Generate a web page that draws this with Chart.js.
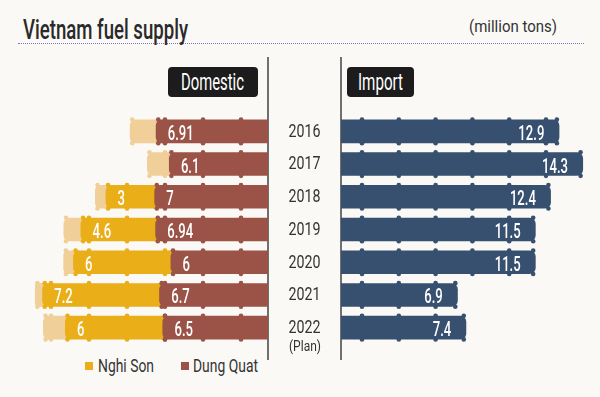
<!DOCTYPE html>
<html>
<head>
<meta charset="utf-8">
<script src="https://cdn.jsdelivr.net/npm/chart.js@4/dist/chart.umd.min.js"></script>
<style>
  html, body { margin: 0; padding: 0; background: #faf9f5; }
  #wrap { position: relative; width: 600px; height: 397px; overflow: hidden; background: #faf9f5;
          font-family: 'Roboto', sans-serif; color: #333; }
  .txt { position: absolute; white-space: nowrap; line-height: 1; transform-origin: 0 0; }
  .box { position: absolute; background: #1c1c1c; border-radius: 4px; }
  .vline { position: absolute; width: 2px; background: #707070; }
  .sq { position: absolute; width: 8px; height: 8px; }
  canvas { position: absolute; }
  #rule { position: absolute; left: 18px; top: 43px; width: 566px; height: 0; border-top: 1px dotted #7b74c4; }
</style>
</head>
<body>
<div id="wrap">
  <div id="rule"></div>
  <div class="box" style="left:168px;top:67px;width:90px;height:30px"></div>
  <div class="box" style="left:347px;top:67px;width:67px;height:30px"></div>
  <div class="vline" style="left:267px;top:57px;height:303px"></div>
  <div class="vline" style="left:340px;top:57px;height:303px"></div>
  <div class="sq" style="left:85px;top:362px;background:#e9ae18"></div>
  <div class="sq" style="left:181px;top:362px;background:#9b5348"></div>
  <canvas id="left" width="268" height="229" style="left:0;top:115px"></canvas>
  <canvas id="right" width="332" height="229" style="left:268px;top:115px"></canvas>
</div>
<script>
// ---- data (million tons) ----
const years    = ['2016', '2017', '2018', '2019', '2020', '2021', '2022'];
const dungQuat = [6.91, 6.1, 7, 6.94, 6, 6.7, 6.5];
const nghiSon  = [null, null, 3, 4.6, 6, 7.2, 6];
const pipeEnd  = [1.6, 1.35, 0.65, 1.05, 0.6, 0.45, 1.35];   // light pipe opening drawn past the domestic bars
const imports  = [12.9, 14.3, 12.4, 11.5, 11.5, 6.9, 7.4];
const seriesNames = ['Nghi Son', 'Dung Quat'];

const FONT = "Roboto, 'Liberation Sans', sans-serif";
const C = { dung: '#9b5348', nghi: '#e9ae18', cap: '#f1cf98', imp: '#37506f' };

// ---- HTML text helper (condensed look via horizontal scaling) ----
const wrap = document.getElementById('wrap');
function txt(s, o) {
  const d = document.createElement('div');
  d.className = 'txt';
  d.textContent = s;
  d.style.fontSize = o.size + 'px';
  d.style.color = o.color || '#333';
  if (o.weight) d.style.fontWeight = o.weight;
  wrap.appendChild(d);
  const w = d.getBoundingClientRect().width;
  const sx = o.width ? o.width / w : 1;
  const left = o.cx !== undefined ? o.cx - (w * sx) / 2 : o.left;
  d.style.left = left + 'px';
  d.style.top = (o.baseline - 0.842 * o.size) + 'px';
  d.style.transform = 'scaleX(' + sx + ')';
  return d;
}
txt('Vietnam fuel supply', { left: 23, baseline: 40, size: 28, width: 165, color: '#2a2a2a', weight: 500 });
txt('(million tons)', { left: 469, baseline: 32, size: 17, width: 88 });
txt('Domestic', { cx: 212, baseline: 90, size: 23, width: 63, color: '#ffffff' });
txt('Import', { cx: 380.5, baseline: 90, size: 23, width: 45, color: '#ffffff' });
txt(seriesNames[0], { left: 98, baseline: 372, size: 18, width: 56 });
txt(seriesNames[1], { left: 193, baseline: 372, size: 18, width: 65 });
txt('(Plan)', { cx: 304.5, baseline: 351, size: 14, width: 32 });

// ---- pipe decoration: underlap + flanges ----
const pipePlugin = {
  id: 'pipe',
  beforeDatasetsDraw(chart, args, opts) {
    if (!opts.underlap) return;
    const ctx = chart.ctx;
    chart.data.datasets.forEach((ds, di) => {
      if (di === 0) return;
      chart.getDatasetMeta(di).data.forEach((el, i) => {
        if (!ds.data[i]) return;
        const p = el.getProps(['x', 'base', 'y', 'height'], true);
        ctx.fillStyle = ds.backgroundColor;
        ctx.fillRect(p.base - 1, p.y - p.height / 2, 8, p.height);
      });
    });
  },
  afterDatasetsDraw(chart, args, opts) {
    const ctx = chart.ctx, area = chart.chartArea;
    chart.data.labels.forEach((lab, i) => {
      const segs = [];
      chart.data.datasets.forEach((ds, di) => {
        if (!ds.data[i]) return;
        const p = chart.getDatasetMeta(di).data[i].getProps(['x', 'base', 'y', 'height'], true);
        segs.push({ lo: Math.min(p.x, p.base), hi: Math.max(p.x, p.base), outer: p.x, y: p.y, h: p.height, color: ds.backgroundColor });
      });
      if (!segs.length) return;
      const y = segs[0].y, h = segs[0].h;
      const lo = Math.min(...segs.map(s => s.lo)), hi = Math.max(...segs.map(s => s.hi));
      const pts = [];
      if (opts.side === 'left') {
        for (let px = area.right - opts.first; px > lo + 7; px -= opts.step) pts.push([px, null]);
        segs.forEach(s => pts.push([s.outer + 2.5, s.color]));
      } else {
        for (let px = area.left + opts.first; px < hi - 7; px += opts.step) pts.push([px, null]);
        segs.forEach(s => pts.push([s.outer - 2.5, s.color]));
      }
      pts.forEach(([px, col]) => {
        if (!col) { const s = segs.find(s => px >= s.lo && px <= s.hi); if (!s) return; col = s.color; }
        ctx.fillStyle = col;
        [y - h / 2, y + h / 2].forEach(yy => { ctx.beginPath(); ctx.arc(px, yy, 2.3, 0, Math.PI * 2); ctx.fill(); });
      });
    });
  }
};

// ---- value labels inside bars ----
const labelPlugin = {
  id: 'vals',
  afterDatasetsDraw(chart, args, opts) {
    const ctx = chart.ctx;
    ctx.save();
    ctx.font = '500 ' + opts.size + 'px ' + FONT;
    const sx = opts.refWidth / ctx.measureText('12.9').width;
    ctx.fillStyle = '#ffffff';
    ctx.textBaseline = 'alphabetic';
    opts.datasets.forEach(di => {
      const ds = chart.data.datasets[di];
      chart.getDatasetMeta(di).data.forEach((el, i) => {
        const v = ds.data[i];
        if (v == null) return;
        const p = el.getProps(['x', 'y'], true);
        const by = p.y + 1 + opts.size * 0.711 / 2;
        ctx.save();
        if (opts.side === 'left') { ctx.translate(p.x + opts.inset, by); ctx.textAlign = 'left'; }
        else { ctx.translate(p.x - opts.inset, by); ctx.textAlign = 'right'; }
        ctx.scale(sx, 1);
        ctx.fillText(String(v), 0, 0);
        ctx.restore();
      });
    });
    ctx.restore();
  }
};

// ---- category (year) labels between the two halves, placed with the y scale ----
const yearPlugin = {
  id: 'years',
  afterDraw(chart, args, opts) {
    const ctx = chart.ctx, yScale = chart.scales.y;
    ctx.save();
    ctx.font = opts.size + 'px ' + FONT;
    const sx = opts.refWidth / ctx.measureText('2016').width;
    ctx.fillStyle = '#333';
    ctx.textAlign = 'center';
    ctx.textBaseline = 'alphabetic';
    chart.data.labels.forEach((lab, i) => {
      const yc = yScale.getPixelForValue(i) - 1;
      ctx.save();
      ctx.translate(chart.chartArea.left - opts.offset, yc + opts.size * 0.711 / 2);
      ctx.scale(sx, 1);
      ctx.fillText(lab, 0, 0);
      ctx.restore();
    });
    ctx.restore();
  }
};

const radius = { topLeft: 6, topRight: 6, bottomLeft: 6, bottomRight: 6 };
const common = { responsive: false, animation: false, indexAxis: 'y', events: [] };

new Chart(document.getElementById('left'), {
  type: 'bar',
  data: {
    labels: years,
    datasets: [
      { label: 'Dung Quat', data: dungQuat, backgroundColor: C.dung },
      { label: 'Nghi Son', data: nghiSon, backgroundColor: C.nghi },
      { label: 'pipe end', data: pipeEnd, backgroundColor: C.cap },
    ].map(d => Object.assign(d, { barPercentage: 0.72, categoryPercentage: 1, borderRadius: radius, borderSkipped: 'start' }))
  },
  options: Object.assign({}, common, {
    layout: { padding: 0, autoPadding: false },
    scales: {
      x: { display: false, stacked: true, reverse: true, min: 0, max: 16.5 },
      y: { display: false, stacked: true }
    },
    plugins: {
      legend: { display: false }, tooltip: { enabled: false },
      pipe: { side: 'left', first: 27, step: 38, underlap: true },
      vals: { side: 'left', datasets: [0, 1], size: 21, refWidth: 26, inset: 12 }
    }
  }),
  plugins: [pipePlugin, labelPlugin]
});

new Chart(document.getElementById('right'), {
  type: 'bar',
  data: {
    labels: years,
    datasets: [
      { label: 'Import', data: imports, backgroundColor: C.imp, barPercentage: 0.72, categoryPercentage: 1, borderRadius: radius, borderSkipped: 'start' }
    ]
  },
  options: Object.assign({}, common, {
    layout: { padding: { left: 73, right: 0, top: 0, bottom: 0 }, autoPadding: false },
    scales: {
      x: { display: false, min: 0, max: 15.3 },
      y: { display: false }
    },
    plugins: {
      legend: { display: false }, tooltip: { enabled: false },
      pipe: { side: 'right', first: 21, step: 36.8 },
      vals: { side: 'right', datasets: [0], size: 21, refWidth: 26, inset: 15 },
      years: { size: 18, refWidth: 32, offset: 36.5 }
    }
  }),
  plugins: [pipePlugin, labelPlugin, yearPlugin]
});
</script>
</body>
</html>
